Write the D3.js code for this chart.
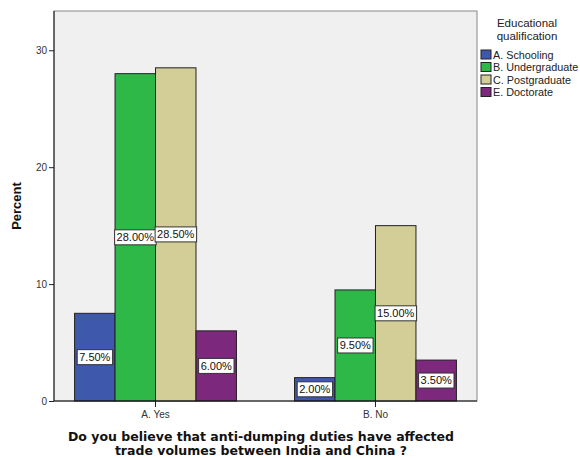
<!DOCTYPE html>
<html><head><meta charset="utf-8">
<script src="https://cdn.jsdelivr.net/npm/d3@7"></script>
<style>body{margin:0;background:#fff}svg{display:block}</style>
</head><body>
<script>
const categories = ["A. Yes", "B. No"];
const seriesNames = ["A. Schooling", "B. Undergraduate", "C. Postgraduate", "E. Doctorate"];
const schooling = [7.5, 2.0];
const undergraduate = [28.0, 9.5];
const postgraduate = [28.5, 15.0];
const doctorate = [6.0, 3.5];
const yTicks = [0, 10, 20, 30];
const colors = ["#3E58AC", "#2EB848", "#D3CE97", "#7C287D"];
const seriesValues = [schooling, undergraduate, postgraduate, doctorate];

const W = 580, H = 458;
const svg = d3.select("body").append("svg").attr("width", W).attr("height", H);
const L = 54, R = 477, T = 11, B = 401;

const x = d3.scaleBand().domain(categories).range([L, R]).paddingInner(0.264).paddingOuter(0.0935);
const xs = d3.scaleBand().domain(seriesNames).range([0, x.bandwidth()]);
const y = d3.scaleLinear().domain([0, 33.36]).range([B, T]);

svg.append("rect").attr("x", L).attr("y", T).attr("width", R - L).attr("height", B - T)
  .attr("fill", "#F0F0F0").attr("stroke", "#888").attr("stroke-width", 1);

const data = [];
categories.forEach((c, i) => seriesNames.forEach((s, j) => data.push({c, s, v: seriesValues[j][i], j})));

svg.append("g").selectAll("rect").data(data).join("rect")
  .attr("x", d => x(d.c) + xs(d.s))
  .attr("y", d => y(d.v))
  .attr("width", xs.bandwidth())
  .attr("height", d => y(0) - y(d.v))
  .attr("fill", d => colors[d.j])
  .attr("stroke", "#222").attr("stroke-width", 1);

// axes
const yAxis = svg.append("g").attr("transform", `translate(${L},0)`)
  .call(d3.axisLeft(y).tickValues(yTicks).tickSize(5).tickPadding(2));
yAxis.select(".domain").remove();
yAxis.selectAll("line").attr("stroke", "#222");
yAxis.selectAll("text").attr("font-family", "Liberation Sans, Arial, sans-serif").attr("font-size", 10).attr("fill", "#333");
svg.append("line").attr("x1", L).attr("x2", L).attr("y1", T).attr("y2", B).attr("stroke", "#111");

const xAxis = svg.append("g").attr("transform", `translate(0,${B})`)
  .call(d3.axisBottom(x).tickSize(6).tickPadding(4));
xAxis.select(".domain").remove();
xAxis.selectAll("line").attr("stroke", "#222");
xAxis.selectAll("text").attr("font-family", "Liberation Sans, Arial, sans-serif").attr("font-size", 10).attr("fill", "#333");
svg.append("line").attr("x1", L).attr("x2", R).attr("y1", B).attr("y2", B).attr("stroke", "#111");

// value labels
const lab = svg.append("g").selectAll("g").data(data).join("g")
  .attr("transform", d => `translate(${x(d.c) + xs(d.s) + xs.bandwidth() / 2},${(y(d.v) + y(0)) / 2})`);
lab.append("text").attr("text-anchor", "middle").attr("dy", "0.35em")
  .attr("font-family", "Liberation Sans, Arial, sans-serif").attr("font-size", 11).attr("fill", "#111")
  .text(d => d.v.toFixed(2) + "%");
lab.each(function() {
  const g = d3.select(this);
  const bb = g.select("text").node().getBBox();
  g.insert("rect", "text").attr("x", bb.x - 2).attr("y", -7.5).attr("width", bb.width + 4).attr("height", 15)
    .attr("fill", "#fff").attr("stroke", "#333").attr("stroke-width", 1);
});

// y title
svg.append("text").attr("transform", `translate(21,${(T + B) / 2}) rotate(-90)`)
  .attr("text-anchor", "middle").attr("font-family", "Liberation Sans, Arial, sans-serif")
  .attr("font-size", 13).attr("font-weight", "bold").attr("fill", "#111").text("Percent");

// x title
const xt = svg.append("text").attr("text-anchor", "middle").attr("font-family", "DejaVu Sans, sans-serif")
  .attr("font-size", 12.5).attr("font-weight", "bold").attr("fill", "#111");
xt.append("tspan").attr("x", 261).attr("y", 441).text("Do you believe that anti-dumping duties have affected");
xt.append("tspan").attr("x", 261).attr("y", 455).text("trade volumes between India and China ?");

// legend
const lt = svg.append("text").attr("text-anchor", "middle").attr("font-family", "Liberation Sans, Arial, sans-serif")
  .attr("font-size", 11.5).attr("fill", "#222");
lt.append("tspan").attr("x", 527).attr("y", 27).text("Educational");
lt.append("tspan").attr("x", 527).attr("y", 40).text("qualification");
const lg = svg.append("g").selectAll("g").data(seriesNames).join("g")
  .attr("transform", (d, i) => `translate(481,${50 + i * 12.5})`);
lg.append("rect").attr("width", 10).attr("height", 9).attr("fill", (d, i) => colors[i]).attr("stroke", "#222");
lg.append("text").attr("x", 12).attr("y", 8.5).attr("font-family", "Liberation Sans, Arial, sans-serif")
  .attr("font-size", 10.8).attr("fill", "#222").text(d => d);
</script>
</body></html>
